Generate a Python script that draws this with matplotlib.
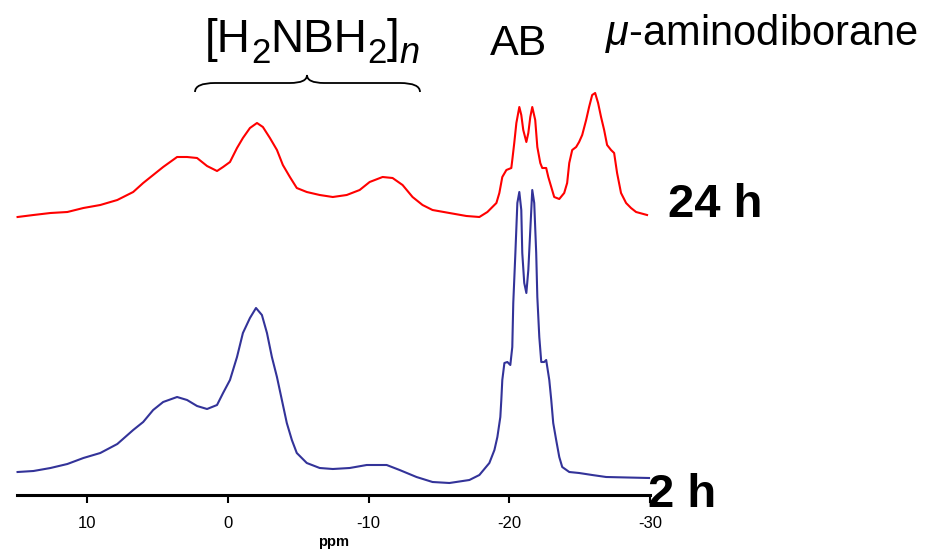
import matplotlib
matplotlib.use("Agg")
import matplotlib.pyplot as plt
from matplotlib.path import Path
from matplotlib.patches import PathPatch

plt.rcParams['font.family'] = ['Liberation Sans', 'DejaVu Sans']
plt.rcParams['mathtext.fontset'] = 'custom'
plt.rcParams['mathtext.rm'] = 'Liberation Sans'
plt.rcParams['mathtext.it'] = 'Liberation Sans:italic'
plt.rcParams['mathtext.bf'] = 'Liberation Sans:bold'

# ---- data ----
ppm_2h = [14.96, 13.83, 12.62, 11.42, 10.28, 9.08, 7.87, 6.74, 6.03, 5.32, 4.61, 3.62,
          2.91, 2.20, 1.49, 0.78, 0.35, -0.14, -0.64, -1.06, -1.56, -1.99, -2.41, -2.77,
          -3.12, -3.48, -3.83, -4.18, -4.54, -4.89, -5.60, -6.52, -7.45, -8.65, -9.86,
          -11.28, -12.20, -13.40, -14.54, -15.74, -17.16, -17.87, -18.58, -18.94, -19.15,
          -19.36, -19.43, -19.50, -19.65, -19.86, -20.07, -20.21, -20.28, -20.43, -20.57,
          -20.71, -20.85, -20.92, -21.06, -21.21, -21.35, -21.49, -21.63, -21.77, -21.91,
          -21.99, -22.13, -22.27, -22.48, -22.62, -22.84, -22.98, -23.12, -23.33, -23.55,
          -23.76, -24.26, -24.96, -25.89, -26.88, -29.93]
int_2h = [0, 1, 4, 8, 14, 19, 28, 42, 50, 62, 70, 75,
          72, 66, 63, 67, 79, 92, 115, 139, 154, 164, 157, 139,
          115, 95, 72, 49, 32, 19, 9, 4, 3, 4, 7,
          7, 2, -5, -10, -11, -8, -3, 9, 22, 35,
          55, 72, 92, 109, 110, 107, 125, 169, 219, 269,
          280, 262, 219, 189, 179, 202, 242, 282, 269, 219,
          175, 135, 110, 110, 112, 92, 72, 49, 32, 15,
          5, 0, -1, -3, -5, -6]

ppm_24h = [14.96, 13.83, 12.62, 11.42, 10.28, 9.08, 7.87, 6.74, 6.03, 5.32, 4.61, 3.62,
           2.91, 2.20, 1.49, 0.78, 0.35, -0.14, -0.64, -1.06, -1.56, -2.06, -2.48, -2.98,
           -3.48, -3.90, -4.40, -4.89, -5.60, -6.52, -7.45, -8.44, -9.36, -10.07, -10.99,
           -11.70, -12.41, -13.12, -13.83, -14.54, -15.74, -16.95, -17.87, -18.44, -19.08,
           -19.29, -19.50, -19.79, -20.14, -20.21, -20.35, -20.50, -20.71, -20.85, -20.99,
           -21.21, -21.35, -21.49, -21.63, -21.84, -21.99, -22.20, -22.34, -22.62, -22.77,
           -22.98, -23.19, -23.55, -23.90, -24.11, -24.26, -24.47, -24.75, -24.96, -25.18,
           -25.46, -25.67, -25.89, -26.10, -26.31, -26.52, -26.74, -26.95, -27.23, -27.45,
           -27.66, -27.94, -28.30, -28.65, -29.01, -29.79]
int_24h = [0, 2, 4, 5, 9, 12, 17, 25, 34, 42, 50, 60,
           60, 59, 51, 46, 50, 55, 69, 79, 89, 94, 90, 79,
           67, 52, 40, 29, 25, 22, 20, 22, 27, 35, 40,
           39, 32, 20, 12, 7, 4, 1, 0, 5, 14,
           24, 40, 47, 49, 57, 74, 94, 110, 102, 87,
           75, 84, 100, 110, 97, 70, 54, 49, 49, 40,
           30, 20, 18, 24, 34, 54, 67, 70, 75, 82,
           97, 110, 122, 124, 114, 100, 87, 72, 67, 64,
           44, 24, 14, 9, 5, 2]

tick_vals = [10, 0, -10, -20, -30]
tick_labels = ['10', '0', '-10', '-20', '-30']
offset_2h = 23
offset_24h = 278

W, H = 930, 552
fig = plt.figure(figsize=(W / 100, H / 100), dpi=100)
ax = fig.add_axes([17 / W, (H - 495) / H, (650 - 17) / W, 495 / H])
ax.set_xlim(15, -30)
ax.set_ylim(0, 495)

ax.plot(ppm_2h, [v + offset_2h for v in int_2h], color='#333399', lw=1.5, clip_on=False)
ax.plot(ppm_24h, [v + offset_24h for v in int_24h], color='#ff0000', lw=1.5, clip_on=False)

for s in ['top', 'right', 'left']:
    ax.spines[s].set_visible(False)
ax.spines['bottom'].set_linewidth(2.2)
ax.set_yticks([])
ax.set_xticks(tick_vals)
ax.set_xticklabels(tick_labels, fontsize=12)
ax.tick_params(axis='x', direction='out', length=6, width=1.5, pad=9)
ax.set_xlabel('ppm', fontsize=10.5, fontweight='bold', labelpad=3)

# brace over polymer region
def px(x, y):
    return (x / W, 1 - y / H)

verts = [px(195, 92), px(195, 83), px(215, 83), px(240, 83),
         px(290, 83), px(307, 83), px(307, 75),
         px(307, 83), px(324, 83), px(380, 83),
         px(400, 83), px(420, 83), px(420, 92)]
codes = [Path.MOVETO, Path.CURVE3, Path.CURVE3, Path.LINETO,
         Path.LINETO, Path.CURVE3, Path.CURVE3,
         Path.CURVE3, Path.CURVE3, Path.LINETO,
         Path.LINETO, Path.CURVE3, Path.CURVE3]
fig.add_artist(PathPatch(Path(verts, codes), transform=fig.transFigure,
                         fill=False, lw=1.3, color='black'))

# [H2NBH2]n built from pieces
renderer = fig.canvas.get_renderer()
pieces = [('[H', 33, 0, 'normal'), ('2', 25, -11, 'normal'), ('NBH', 33, 0, 'normal'),
          ('2', 25, -11, 'normal'), (']', 33, 0, 'normal'), ('n', 26, -11, 'italic')]
xcur = 205
for txt, fs, dy, style in pieces:
    t = fig.text(xcur / W, 1 - (52 - dy) / H, txt, fontsize=fs, style=style,
                 ha='left', va='baseline')
    bb = t.get_window_extent(renderer)
    xcur += bb.width

fig.text(490 / W, 1 - 55 / H, 'AB', fontsize=31, ha='left', va='baseline')
fig.text(605 / W, 1 - 45 / H, r'$\mu$-aminodiborane', fontsize=30, ha='left', va='baseline')
fig.text(668 / W, 1 - 217 / H, '24 h', fontsize=34, fontweight='bold', ha='left', va='baseline')
fig.text(648 / W, 1 - 507 / H, '2 h', fontsize=34, fontweight='bold', ha='left', va='baseline')

fig.savefig('out.png', dpi=100)
